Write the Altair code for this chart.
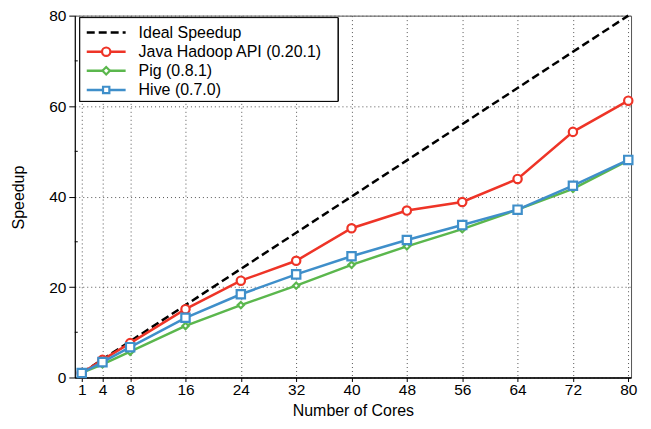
import altair as alt
import pandas as pd

cores = [1, 4, 8, 16, 24, 32, 40, 48, 56, 64, 72, 80]
ideal = [1, 4, 8, 16, 24, 32, 40, 48, 56, 64, 72, 80]
java = [1, 3.9, 7.6, 15.1, 21.4, 25.8, 33.0, 36.9, 38.8, 43.9, 54.3, 61.2]
pig = [1, 2.9, 5.7, 11.4, 16.0, 20.3, 24.9, 29.0, 32.8, 37.1, 41.7, 48.0]
hive = [1, 3.4, 6.7, 13.2, 18.4, 22.8, 26.8, 30.4, 33.7, 37.1, 42.4, 48.1]

y_ticks = [0, 20, 40, 60, 80]
y_minor = [10, 30, 50, 70]

names = ["Ideal Speedup", "Java Hadoop API (0.20.1)", "Pig (0.8.1)", "Hive (0.7.0)"]
colors = ["#000000", "#ee3427", "#5bb74d", "#3f8fca"]
shapes = ["circle", "diamond", "square"]

FONT = "Liberation Sans"

X = alt.X(
    "cores:Q",
    scale=alt.Scale(domain=[0, 80.4], nice=False, zero=False),
    axis=alt.Axis(
        values=cores, title="Number of Cores", grid=True, gridDash=[1, 3],
        gridColor="#555", gridWidth=1, gridOpacity=1, domainColor="black", domainWidth=1.5,
        tickColor="black", tickSize=4, labelPadding=1, labelFontSize=15.5,
        labelFont=FONT, labelColor="black", titleFont=FONT, titleFontSize=16,
        titleFontWeight="normal", titleColor="black", titlePadding=5,
    ),
)
Y = alt.Y(
    "v:Q",
    scale=alt.Scale(domain=[0, 80], nice=False),
    axis=alt.Axis(
        values=y_ticks, title="Speedup", grid=True, gridDash=[1, 3],
        gridColor="#555", gridWidth=1, gridOpacity=1, domainColor="black", domainWidth=1,
        tickColor="black", tickSize=6, labelPadding=3, labelFontSize=15.5,
        labelFont=FONT, labelColor="black", titleFont=FONT, titleFontSize=16,
        titleFontWeight="normal", titleColor="black", titleX=-56, titleY=182,
        titleAngle=270, titleAlign="center", titleBaseline="middle",
    ),
)


def series_df(vals):
    return pd.DataFrame({"cores": cores, "v": vals})


ideal_line = alt.Chart(series_df(ideal)).mark_line(
    color="black", strokeWidth=2.5, strokeDash=[8, 4]
).encode(x=X, y=Y)


def series(vals, color, shape, size):
    d = series_df(vals)
    line = alt.Chart(d).mark_line(color=color, strokeWidth=2.5).encode(x=X, y=Y)
    pts = alt.Chart(d).mark_point(
        shape=shape, filled=True, fill="white", stroke=color, strokeWidth=2.2,
        size=size, opacity=1,
    ).encode(x=X, y=Y)
    return [line, pts]


java_l = series(java, colors[1], "circle", 70)
pig_l = series(pig, colors[2], "diamond", 40)
hive_l = series(hive, colors[3], "square", 70)

minor = alt.Chart(pd.DataFrame({"v": y_minor})).mark_rule(
    color="black", strokeWidth=1
).encode(y=Y, x=alt.value(0), x2=alt.value(3))

data_layer = alt.layer(ideal_line, *java_l, *pig_l, *hive_l, minor)

# legend
leg = pd.DataFrame({"name": names, "row": [0, 1, 2, 3]})
LY = alt.Y("row:Q", scale=alt.Scale(domain=[0, 3], range=[17, 74.5]), axis=None)
CS = alt.Color("name:N", scale=alt.Scale(domain=names, range=colors), legend=None)

box = alt.Chart(leg).mark_rect(
    fill="white", stroke="black", strokeWidth=1
).encode(x=alt.value(5), x2=alt.value(264), y=alt.value(2), y2=alt.value(86))

leg_lines = alt.Chart(leg).mark_rule(strokeWidth=2.5).encode(
    x=alt.value(12), x2=alt.value(51), y=LY, color=CS,
    strokeDash=alt.StrokeDash(
        "name:N",
        scale=alt.Scale(domain=names, range=[[8, 4], [1, 0], [1, 0], [1, 0]]),
        legend=None,
    ),
)
leg_pts = alt.Chart(leg).transform_filter(
    alt.datum.row > 0
).mark_point(filled=True, fill="white", strokeWidth=2.2, opacity=1).encode(
    x=alt.value(31.5), y=LY,
    stroke=alt.Stroke("name:N", scale=alt.Scale(domain=names, range=colors), legend=None),
    shape=alt.Shape("name:N", scale=alt.Scale(domain=names[1:], range=shapes), legend=None),
    size=alt.Size("name:N", scale=alt.Scale(domain=names[1:], range=[70, 40, 70]), legend=None),
)
leg_text = alt.Chart(leg).mark_text(
    align="left", baseline="middle", fontSize=16, font=FONT, color="black"
).encode(x=alt.value(64), y=LY, text="name:N")

legend_layer = alt.layer(box, leg_lines, leg_pts, leg_text)

chart = alt.layer(data_layer, legend_layer).resolve_scale(
    x="independent", y="independent", color="independent",
    stroke="independent", shape="independent", size="independent",
).properties(
    width=558, height=363,
    padding={"left": 67, "top": 7, "right": 12, "bottom": 45},
    autosize=alt.AutoSizeParams(type="none"),
    background="white",
).configure_view(stroke="#555", strokeWidth=1)

chart.save("out.html", embed_options={"renderer": "svg", "actions": False})
